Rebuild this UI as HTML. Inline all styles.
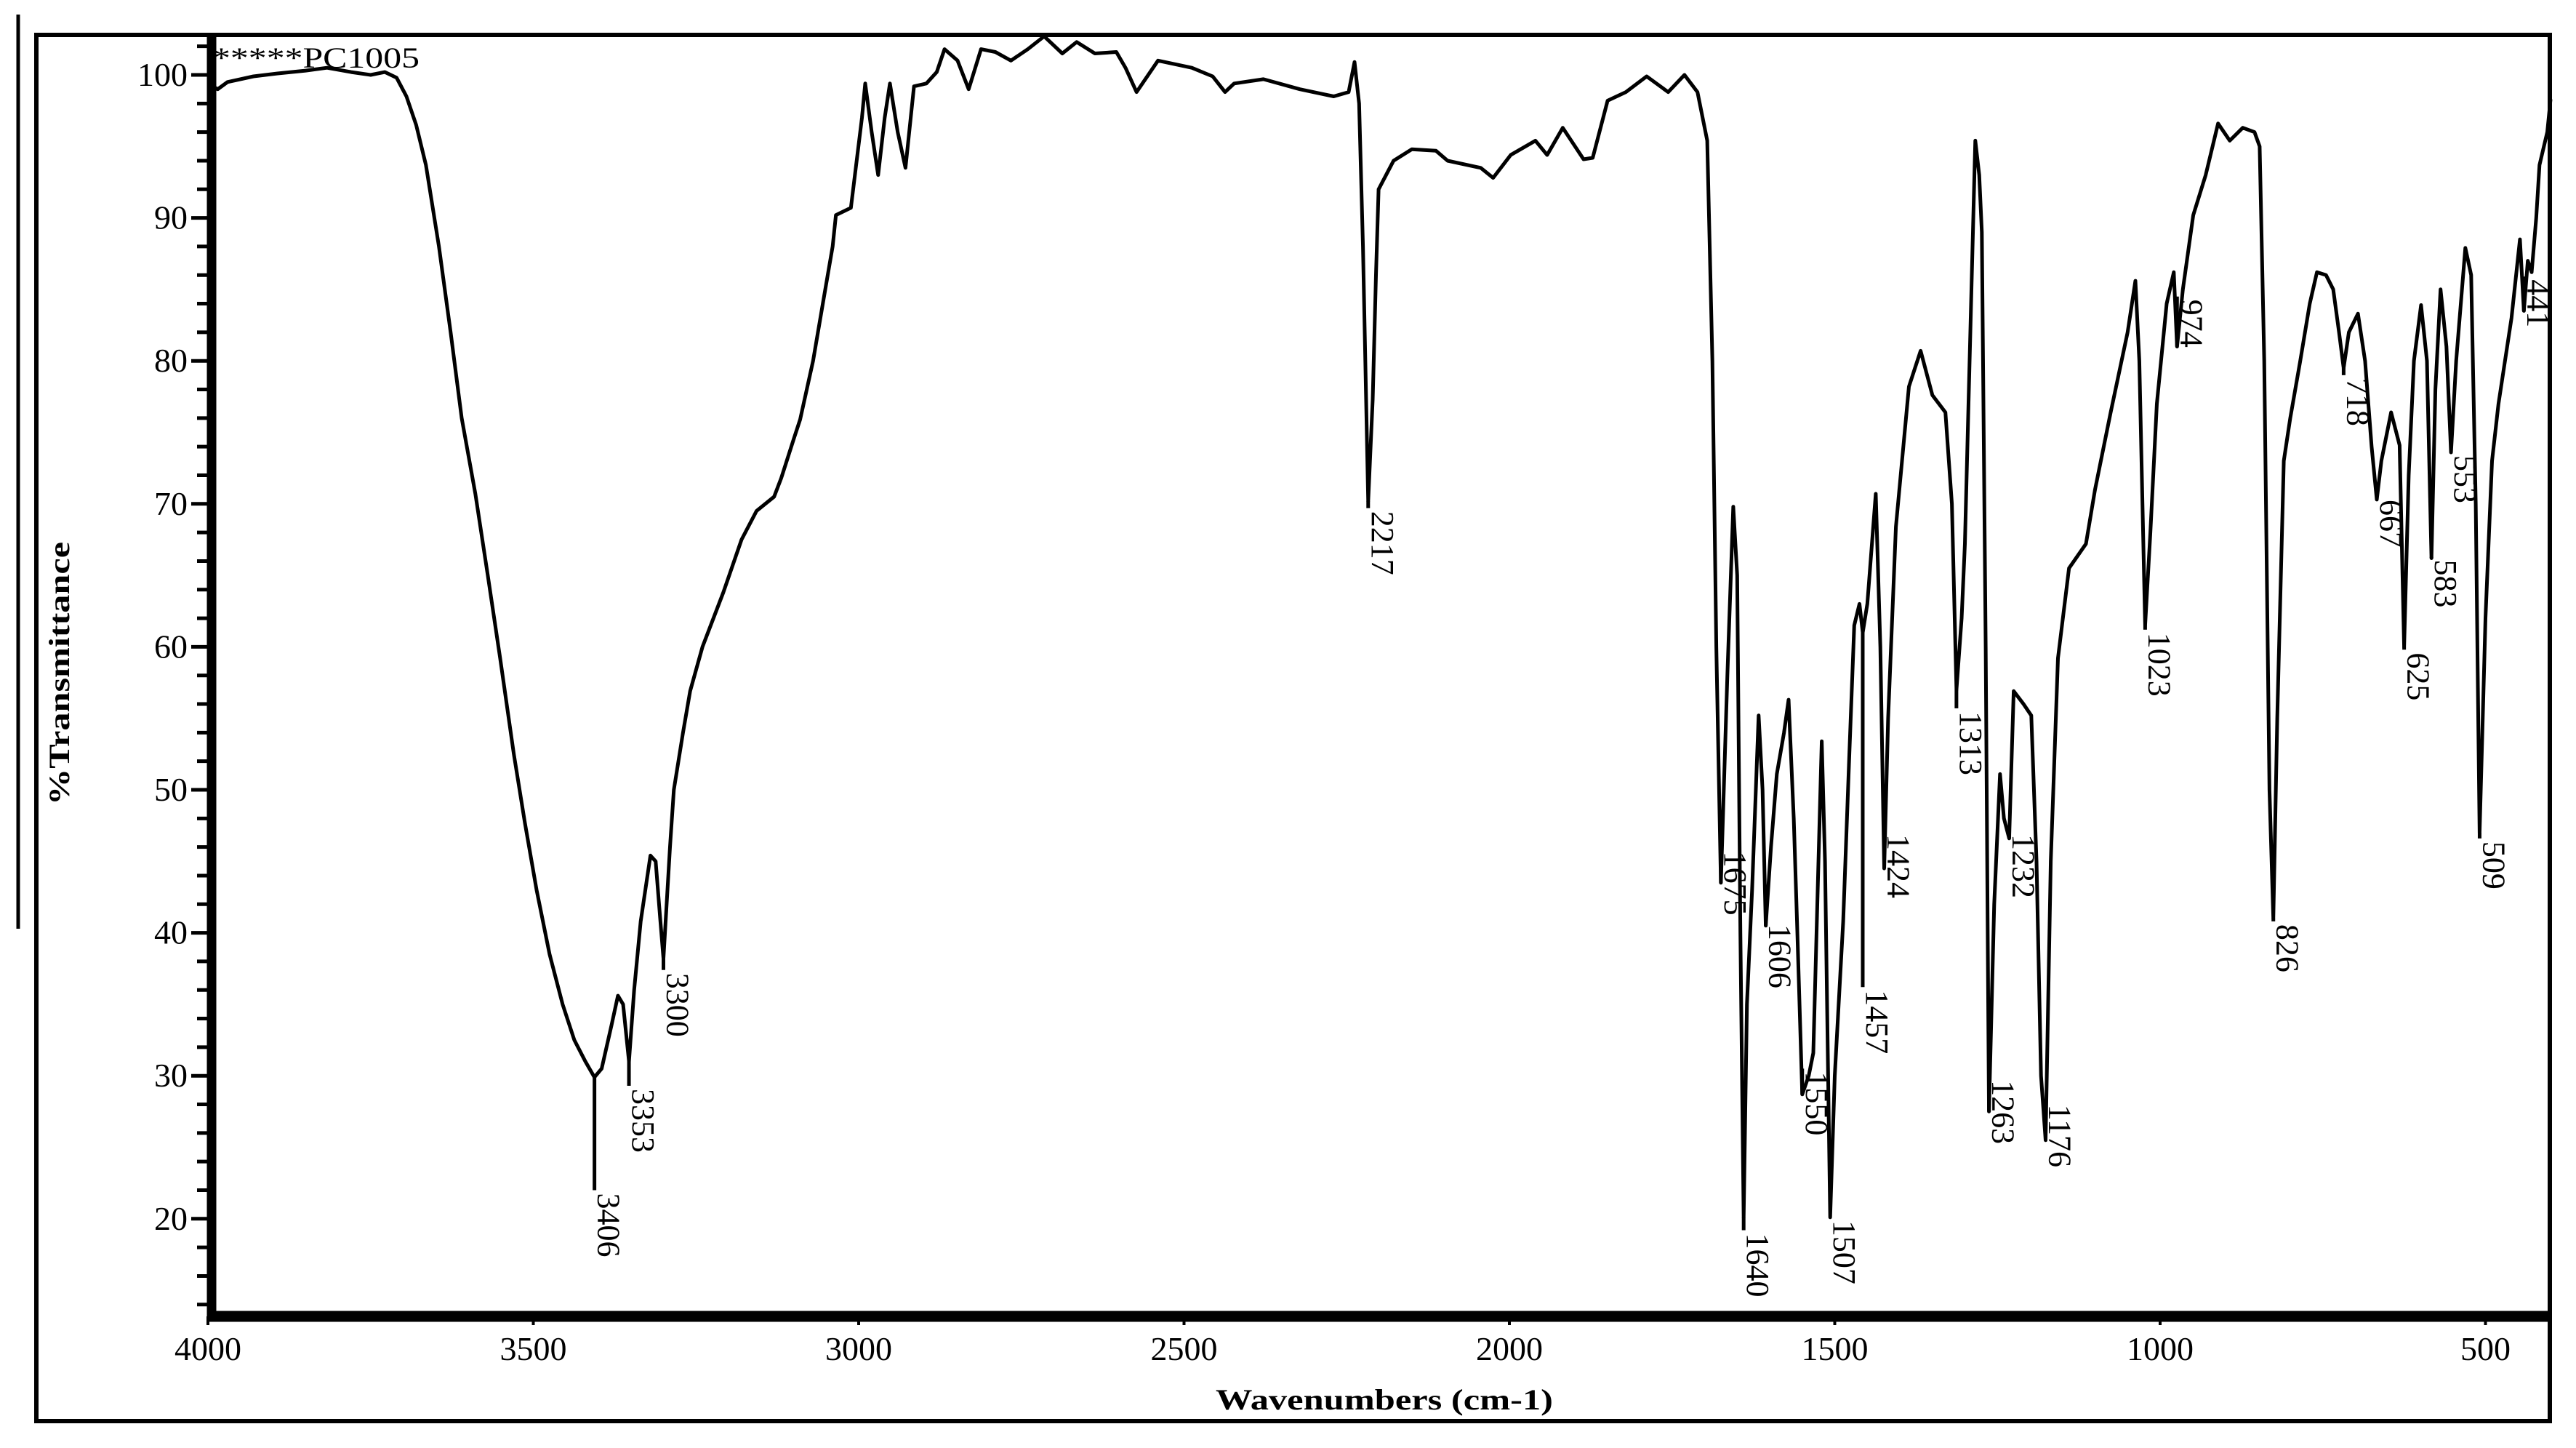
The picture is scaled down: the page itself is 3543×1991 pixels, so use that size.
<!DOCTYPE html>
<html><head><meta charset="utf-8"><style>
html,body{margin:0;padding:0;background:#fff;}
svg{display:block;font-family:"Liberation Serif",serif;}
</style></head><body>
<svg id="chart" width="3543" height="1991" viewBox="0 0 3543 1991" xmlns="http://www.w3.org/2000/svg">
<rect x="0" y="0" width="3543" height="1991" fill="#fff"/>
<line x1="25" y1="20" x2="25" y2="1277" stroke="#000" stroke-width="5"/>
<rect x="50" y="48" width="3457" height="1906" fill="none" stroke="#000" stroke-width="6"/>
<g id="ticks"></g>
<g id="curve"></g>
<g id="peaks"></g>
<line x1="291" y1="48" x2="291" y2="1817" stroke="#000" stroke-width="13"/>
<line x1="285" y1="1810" x2="3507" y2="1810" stroke="#000" stroke-width="15"/>
<text x="292" y="93" font-size="40" textLength="285" lengthAdjust="spacingAndGlyphs">*****PC1005</text>
<text transform="translate(95,926) rotate(-90)" text-anchor="middle" font-size="40" font-weight="bold" textLength="362" lengthAdjust="spacingAndGlyphs">%Transmittance</text>
<text x="1904" y="1938" text-anchor="middle" font-size="40" font-weight="bold" textLength="464" lengthAdjust="spacingAndGlyphs">Wavenumbers (cm-1)</text>
</svg>
<script>
const wavenumbers=[4000,3985,3970,3930,3893,3850,3817,3780,3750,3728,3710,3695,3680,3665,3645,3627,3610,3589,3570,3551,3530,3513,3495,3475,3455,3437,3420,3406,3395,3380,3370,3362,3353,3345,3335,3320,3312,3305,3300,3290,3284,3270,3259,3240,3208,3180,3157,3130,3119,3100,3090,3070,3054,3040,3035,3012,2995,2990,2980,2970,2960,2952,2940,2928,2915,2896,2880,2868,2848,2831,2812,2790,2766,2740,2715,2687,2665,2637,2604,2590,2573,2540,2488,2456,2437,2423,2378,2322,2270,2247,2238,2231,2225,2217,2210,2205,2201,2178,2150,2113,2095,2044,2025,1998,1960,1942,1918,1886,1872,1849,1821,1789,1756,1731,1711,1696,1688,1682,1675,1665,1656,1650,1645,1640,1635,1627,1617,1611,1606,1598,1589,1578,1571,1563,1558,1550,1540,1533,1525,1520,1515,1507,1500,1487,1478,1470,1462,1457,1450,1437,1430,1424,1418,1406,1386,1368,1350,1330,1320,1313,1305,1300,1290,1284,1278,1274,1268,1263,1255,1246,1240,1232,1225,1210,1198,1190,1183,1176,1168,1157,1140,1114,1100,1076,1050,1038,1032,1023,1015,1005,990,979,974,965,949,930,911,893,873,855,847,840,832,826,820,810,800,785,770,759,745,734,725,718,710,696,685,675,667,660,645,632,625,618,610,599,590,583,577,569,560,553,545,531,522,515,509,500,490,480,460,447,441,435,429,422,417,405,400];
const transmittance=[99.4,99.0,99.5,99.9,100.1,100.3,100.5,100.2,100.0,100.2,99.8,98.5,96.5,93.7,88,82,76,70.7,65,59.2,52.5,47.7,43,38.5,35,32.5,31,29.9,30.5,33.5,35.6,35.0,31.0,36,40.8,45.4,45,41,38.2,46,50,54,56.9,60,63.8,67.5,69.5,70.5,71.8,74.5,75.9,80,84.3,88,90.2,90.7,97,99.4,96,93.0,97,99.4,96,93.5,99.2,99.4,100.2,101.8,101,99,101.8,101.6,101,101.8,102.7,101.5,102.3,101.5,101.6,100.5,98.8,101,100.5,99.9,98.8,99.4,99.7,99,98.5,98.8,100.9,98,88,70.2,77.3,86,92,94,94.8,94.7,94,93.5,92.8,94.4,95.4,94.4,96.3,94.1,94.2,98.2,98.8,99.9,98.8,100,98.8,95.4,80,60,43.5,58,69.8,65,40,20.1,35,43,55.2,50,40.5,46,51.1,54,56.3,48,40.8,28.7,30,31.6,45,53.4,45,20.1,30,40.8,52,61.5,63,61,63,70.7,60,44.5,55,68.4,78.2,80.7,77.6,76.4,70,57,62,67.2,85,95.4,93,89,60,27.5,42,51.1,48,46.6,56.9,56,55.2,45,30,25.5,45,59.2,65.5,67.2,71,76.4,82,85.6,80,61.5,68,77,84,86.2,81,85,90.2,93,96.6,95.4,96.3,96,95,80,50,41,55,73,76,79.9,84,86.2,86,85,82,79.5,82,83.3,80,74,70.3,73,76.4,74.1,60,72,80,83.9,80,66.2,78,85,81,73.6,80,87.9,86,70,47,62,73,77,83,88.5,83.5,87,86.2,90,93.7,96,98.3];
const peakLabels=["3406","3353","3300","2217","1675","1640","1606","1550","1507","1457","1424","1313","1263","1232","1176","1023","974","826","718","667","625","583","553","509","441"];
const peakLabelStart=[22.0,29.3,37.4,69.7,45.9,19.2,40.8,30.5,20.1,36.2,47.1,55.7,29.9,47.1,28.2,61.2,84.5,40.8,79,70.5,59.8,66.3,73.6,46.6,85.9];
const yMajorTicks=[20,30,40,50,60,70,80,90,100];
const yMinorTicks=[14,16,18,22,24,26,28,32,34,36,38,42,44,46,48,52,54,56,58,62,64,66,68,72,74,76,78,82,84,86,88,92,94,96,98,102];
const xTicks=[4000,3500,3000,2500,2000,1500,1000,500];

const NS="http://www.w3.org/2000/svg";
function xs(w){return 286+(4000-w)*0.895;}
function ys(v){return 103+(100-v)*19.66;}
function mk(tag,attrs,parent){const e=document.createElementNS(NS,tag);for(const k in attrs)e.setAttribute(k,attrs[k]);parent.appendChild(e);return e;}
function curveAt(w){for(let i=0;i<wavenumbers.length-1;i++){const a=wavenumbers[i],b=wavenumbers[i+1];if(w<=a&&w>=b){const t=(a-w)/(a-b);return transmittance[i]+t*(transmittance[i+1]-transmittance[i]);}}return transmittance[transmittance.length-1];}

const ticks=document.getElementById('ticks');
yMajorTicks.forEach(v=>{
  const l=mk('line',{x1:263,x2:291,y1:ys(v),y2:ys(v),stroke:'#000','stroke-width':5},ticks);
  
  
  const t=mk('text',{x:258,y:ys(v)+15,'text-anchor':'end','font-size':46},ticks);
  
  
  t.textContent=String(v);
});
yMinorTicks.forEach(v=>{
  const l=mk('line',{x1:271,x2:291,y1:ys(v),y2:ys(v),stroke:'#000','stroke-width':5},ticks);
  
  
});
xTicks.forEach(w=>{
  const l=mk('line',{x1:xs(w),x2:xs(w),y1:1810,y2:1822,stroke:'#000','stroke-width':4},ticks);
  
  
  const t=mk('text',{x:xs(w),y:1870,'text-anchor':'middle','font-size':46},ticks);
  
  
  t.textContent=String(w);
});

const curve=document.getElementById('curve');
let d='';
wavenumbers.forEach((w,i)=>{d+=(i?'L':'M')+xs(w).toFixed(1)+','+ys(transmittance[i]).toFixed(1);});
const p=mk('path',{d:d,fill:'none',stroke:'#000','stroke-width':5,'stroke-linejoin':'round'},curve);



const peaks=document.getElementById('peaks');
peakLabels.forEach((lab,i)=>{
  const w=parseFloat(lab);
  const x=xs(w);
  const y0=ys(curveAt(w));
  const y1=ys(peakLabelStart[i]);
  const l=mk('line',{x1:x,x2:x,y1:y0,y2:y1,stroke:'#000','stroke-width':5},peaks);
  
  
  const t=mk('text',{transform:'translate('+(x+5)+','+(y1+4)+') rotate(90)','font-size':44},peaks);
  
  
  t.textContent=lab;
});
</script>
</body></html>
